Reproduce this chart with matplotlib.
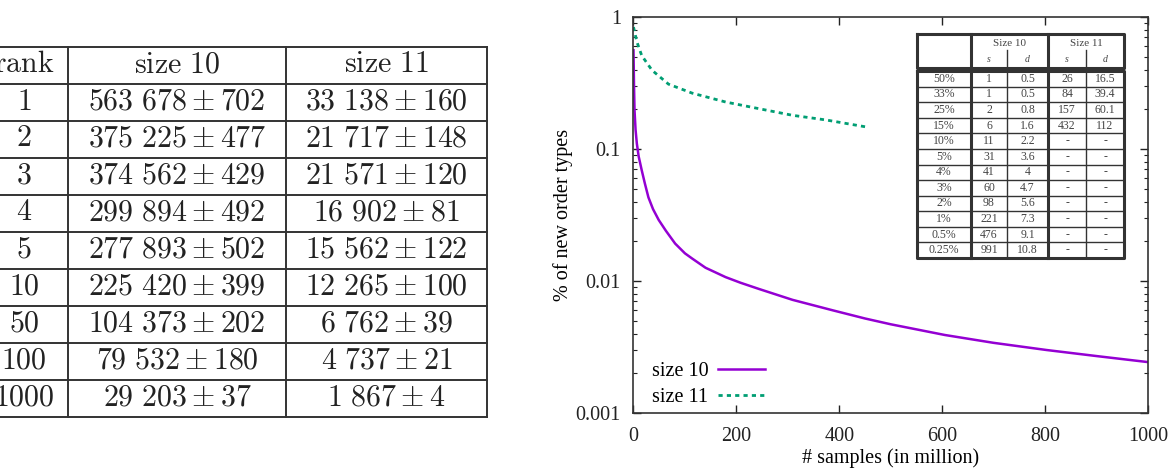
import matplotlib
matplotlib.use("Agg")
import matplotlib.pyplot as plt
from matplotlib.ticker import LogLocator, NullFormatter, MultipleLocator

plt.rcParams['font.family'] = ['Liberation Serif', 'DejaVu Serif']
plt.rcParams['mathtext.fontset'] = 'cm'

# left table
ranks = ['1', '2', '3', '4', '5', '10', '50', '100', '1000']
size10_mean = ['563 678', '375 225', '374 562', '299 894', '277 893', '225 420', '104 373', '79 532', '29 203']
size10_err = ['702', '477', '429', '492', '502', '399', '202', '180', '37']
size11_mean = ['33 138', '21 717', '21 571', '16 902', '15 562', '12 265', '6 762', '4 737', '1 867']
size11_err = ['160', '148', '120', '81', '122', '100', '39', '21', '4']

# inset table
pct = ['50%', '33%', '25%', '15%', '10%', '5%', '4%', '3%', '2%', '1%', '0.5%', '0.25%']
s10_s = ['1', '1', '2', '6', '11', '31', '41', '60', '98', '221', '476', '991']
s10_d = ['0.5', '0.5', '0.8', '1.6', '2.2', '3.6', '4', '4.7', '5.6', '7.3', '9.1', '10.8']
s11_s = ['26', '84', '157', '432', '-', '-', '-', '-', '-', '-', '-', '-']
s11_d = ['16.5', '39.4', '60.1', '112', '-', '-', '-', '-', '-', '-', '-', '-']

# curves
x10 = [0, 1, 2, 4, 6.5, 10, 16, 22, 29, 38, 49, 63, 81, 100, 114, 140, 179, 208,
       244, 309, 387, 450, 500, 605, 700, 803, 900, 1000]
y10 = [0.56, 0.30, 0.196, 0.14, 0.11, 0.088, 0.069, 0.055, 0.043, 0.035, 0.029,
       0.024, 0.0192, 0.0162, 0.0148, 0.0126, 0.0107, 0.0097, 0.0087, 0.0072,
       0.0060, 0.0052, 0.0047, 0.0039, 0.0034, 0.0030, 0.0027, 0.00243]
x11 = [0, 6.5, 16, 36, 68, 114, 179, 244, 309, 374, 452]
y11 = [0.84, 0.65, 0.51, 0.395, 0.31, 0.265, 0.227, 0.202, 0.18, 0.166, 0.147]

W, H = 1173, 468
fig = plt.figure(figsize=(W / 100, H / 100), dpi=100)

ax = fig.add_axes([633.5 / W, (H - 413) / H, 514.5 / W, 396 / H])
ax.plot(x10, y10, color='#9400D3', lw=1.8, label='size 10')
ax.plot(x11, y11, color='#009E73', lw=2, ls=(0, (1.5, 1.5)), label='size 11')
ax.set_yscale('log')
ax.set_xlim(0, 1000)
ax.set_ylim(0.001, 1)
ax.set_yticks([0.001, 0.01, 0.1, 1])
ax.set_yticklabels(['0.001', '0.01', '0.1', '1'])
ax.yaxis.set_minor_locator(LogLocator(base=10, subs=range(2, 10)))
ax.yaxis.set_minor_formatter(NullFormatter())
ax.xaxis.set_major_locator(MultipleLocator(200))
ax.tick_params(which='both', direction='in', top=True, right=True, labelsize=14.5, colors='#222')
ax.tick_params(axis='x', pad=10)
ax.tick_params(axis='y', pad=9)
ax.tick_params(which='major', length=6, width=1)
ax.tick_params(which='minor', length=3, width=0.8)
for sp in ax.spines.values():
    sp.set_color('#333')
    sp.set_linewidth(1.2)
ax.set_xlabel('# samples (in million)', fontsize=14.5, labelpad=2)
ax.set_ylabel('% of new order types', fontsize=14.5, labelpad=2)
ax.legend(loc='lower left', markerfirst=False, frameon=False, fontsize=14.5,
          handlelength=2.3, handletextpad=0.5, labelspacing=0.35,
          bbox_to_anchor=(0.0, -0.03))

# overlay in pixel coordinates for tables
ov = fig.add_axes([0, 0, 1, 1], zorder=5)
ov.set_xlim(0, W)
ov.set_ylim(H, 0)
ov.axis('off')
ov.patch.set_alpha(0)
lc = '#333333'

# left table (its first column is cut by the left edge, as in the original)
cx = [-20, 68, 286, 487]
top, rh = 47, 37
nrows = len(ranks) + 1
bot = top + rh * nrows
for i in range(nrows + 1):
    ov.plot([cx[0], cx[-1]], [top + i * rh] * 2, color=lc, lw=1.4)
for x in cx:
    ov.plot([x, x], [top, bot], color=lc, lw=1.4)
rows = [[r'$\mathrm{rank}$', r'$\mathrm{size\ 10}$', r'$\mathrm{size\ 11}$']]
for r, a, b, c, d in zip(ranks, size10_mean, size10_err, size11_mean, size11_err):
    rows.append([r'$%s$' % r,
                 r'$%s \pm %s$' % (a.replace(' ', r'\ '), b),
                 r'$%s \pm %s$' % (c.replace(' ', r'\ '), d)])
for i, row in enumerate(rows):
    yc = top + (i + 0.5) * rh
    for j, t in enumerate(row):
        ov.text((cx[j] + cx[j + 1]) / 2, yc, t, ha='center', va='center',
                fontsize=21.5, color='#222')

# inset table
ix = [917, 971, 1007, 1048, 1086, 1124]
htop, hmid, hbot = 34, 50, 68
btop, bbot = 71, 258
brh = (bbot - btop) / len(pct)
thick, thin = 2.2, 1.0
ov.plot([ix[0], ix[-1], ix[-1], ix[0], ix[0]], [htop, htop, hbot, hbot, htop], color=lc, lw=thick)
ov.plot([ix[0], ix[-1], ix[-1], ix[0], ix[0]], [btop, btop, bbot, bbot, btop], color=lc, lw=thick)
for x in (ix[1], ix[3]):
    ov.plot([x, x], [htop, bbot], color=lc, lw=thick)
for x in (ix[2], ix[4]):
    ov.plot([x, x], [hmid, hbot], color=lc, lw=thin)
    ov.plot([x, x], [btop, bbot], color=lc, lw=thin)
for i in range(1, len(pct)):
    ov.plot([ix[0], ix[-1]], [btop + i * brh] * 2, color=lc, lw=thin)
tf = dict(ha='center', va='center', color='#444')
ov.text((ix[1] + ix[3]) / 2, (htop + hmid) / 2 + 1, 'Size 10', fontsize=8, **tf)
ov.text((ix[3] + ix[5]) / 2, (htop + hmid) / 2 + 1, 'Size 11', fontsize=8, **tf)
for j, lab in enumerate(['s', 'd', 's', 'd']):
    ov.text((ix[j + 1] + ix[j + 2]) / 2, (hmid + hbot) / 2, lab, style='italic', fontsize=7, **tf)
for i, row in enumerate(zip(pct, s10_s, s10_d, s11_s, s11_d)):
    yc = btop + (i + 0.5) * brh
    for j, t in enumerate(row):
        ov.text((ix[j] + ix[j + 1]) / 2, yc, t, fontsize=8.5, **tf)

fig.savefig('out.png', dpi=100)
